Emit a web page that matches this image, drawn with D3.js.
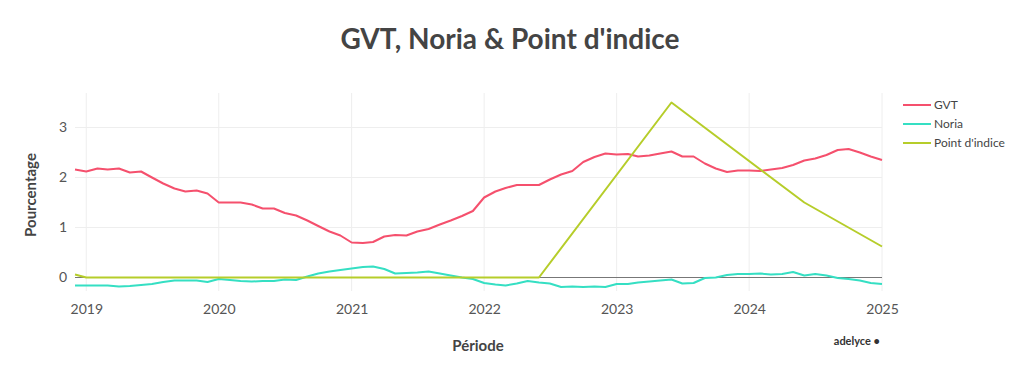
<!DOCTYPE html>
<html>
<head>
<meta charset="utf-8">
<script src="https://cdn.jsdelivr.net/npm/d3@7"></script>
<style>
  body { margin: 0; background: #fff; }
  svg { font-family: "Lato", "Noto Sans", sans-serif; }
</style>
</head>
<body>
<div id="chart"></div>
<script>
// monthly values, Dec 2018 -> Jan 2025
var startMonth = "2018-12";
var gvt = [2.16, 2.12, 2.18, 2.16, 2.18, 2.10, 2.12, 2.00, 1.88, 1.78, 1.72, 1.74, 1.68,
           1.50, 1.50, 1.50, 1.46, 1.38, 1.38, 1.29, 1.24, 1.14, 1.03, 0.92, 0.84,
           0.70, 0.69, 0.71, 0.82, 0.85, 0.84, 0.92, 0.97, 1.06, 1.14, 1.23, 1.33,
           1.60, 1.72, 1.79, 1.85, 1.85, 1.85, 1.96, 2.06, 2.13, 2.31, 2.41, 2.48,
           2.46, 2.47, 2.42, 2.44, 2.48, 2.52, 2.42, 2.42, 2.28, 2.18, 2.11, 2.14,
           2.14, 2.13, 2.16, 2.19, 2.25, 2.34, 2.38, 2.45, 2.55, 2.57, 2.50, 2.42,
           2.35];
var noria = [-0.16, -0.16, -0.16, -0.16, -0.18, -0.17, -0.15, -0.13, -0.09, -0.06, -0.06, -0.06, -0.09,
             -0.03, -0.05, -0.07, -0.08, -0.07, -0.07, -0.04, -0.05, 0.02, 0.08, 0.12, 0.15,
             0.18, 0.21, 0.22, 0.17, 0.08, 0.09, 0.10, 0.12, 0.08, 0.04, 0.00, -0.03,
             -0.11, -0.14, -0.16, -0.12, -0.07, -0.10, -0.12, -0.19, -0.18, -0.19, -0.18, -0.19,
             -0.13, -0.13, -0.10, -0.08, -0.06, -0.04, -0.12, -0.11, -0.01, 0.00, 0.05, 0.07,
             0.07, 0.08, 0.06, 0.07, 0.11, 0.04, 0.07, 0.04, -0.01, -0.03, -0.06, -0.11,
             -0.13];
// point d'indice: sparse dates
var pointDates = ["2018-12", "2019-01", "2022-06", "2023-06", "2024-06", "2025-01"];
var pointValues = [0.06, 0, 0, 3.5, 1.5, 0.62];

var yTicks = [0, 1, 2, 3];
var yearTicks = [2019, 2020, 2021, 2022, 2023, 2024, 2025];

var seriesNames = ["GVT", "Noria", "Point d'indice"];
var colors = ["#f5506d", "#35dfc3", "#b6cd2a"];

var width = 1024, height = 372;
var margin = {top: 93, right: 142, bottom: 81, left: 75};
var innerW = width - margin.left - margin.right,
    innerH = height - margin.top - margin.bottom;

var parseMonth = d3.timeParse("%Y-%m");
var t0 = parseMonth(startMonth);
var monthly = arr => arr.map((v, i) => ({date: d3.timeMonth.offset(t0, i), value: v}));

var series = [
    monthly(gvt),
    monthly(noria),
    pointDates.map((d, i) => ({date: parseMonth(d), value: pointValues[i]}))
];

var x = d3.scaleTime()
    .domain([t0, d3.timeMonth.offset(t0, gvt.length - 1)])
    .range([0, innerW]);
var y = d3.scaleLinear()
    .domain([-0.27, 3.69])
    .range([innerH, 0]);

var svg = d3.select("#chart").append("svg")
    .attr("width", width)
    .attr("height", height);

svg.append("text")
    .attr("x", 510).attr("y", 49)
    .attr("text-anchor", "middle")
    .attr("font-size", 28).attr("font-weight", "bold")
    .attr("fill", "#444")
    .text("GVT, Noria & Point d'indice");

var g = svg.append("g")
    .attr("transform", `translate(${margin.left},${margin.top})`);

// grid
g.selectAll(".vgrid").data(yearTicks).enter().append("line")
    .attr("x1", d => x(new Date(d, 0, 1))).attr("x2", d => x(new Date(d, 0, 1)))
    .attr("y1", 0).attr("y2", innerH)
    .attr("stroke", "#eeeeee").attr("stroke-width", 1);
g.selectAll(".hgrid").data(yTicks.filter(d => d != 0)).enter().append("line")
    .attr("x1", 0).attr("x2", innerW)
    .attr("y1", d => y(d)).attr("y2", d => y(d))
    .attr("stroke", "#eeeeee").attr("stroke-width", 1);

// zero line
g.append("line")
    .attr("x1", 0).attr("x2", innerW)
    .attr("y1", y(0)).attr("y2", y(0))
    .attr("stroke", "#777").attr("stroke-width", 1);

// axes
var xAxis = g.append("g")
    .attr("transform", `translate(0,${innerH})`)
    .call(d3.axisBottom(x).tickValues(yearTicks.map(d => new Date(d, 0, 1)))
        .tickFormat(d3.timeFormat("%Y")).tickSize(0).tickPadding(13));
var yAxis = g.append("g")
    .call(d3.axisLeft(y).tickValues(yTicks).tickFormat(d3.format("d")).tickSize(0).tickPadding(8));
[xAxis, yAxis].forEach(a => {
    a.select(".domain").remove();
    a.selectAll("text").attr("font-size", 14).attr("fill", "#555")
        .attr("font-family", "Lato, sans-serif");
});

// lines
var line = d3.line().x(d => x(d.date)).y(d => y(d.value));
series.forEach((s, i) => {
    g.append("path")
        .datum(s)
        .attr("fill", "none")
        .attr("stroke", colors[i])
        .attr("stroke-width", 2)
        .attr("stroke-linejoin", "round")
        .attr("d", line);
});

// axis titles
svg.append("text")
    .attr("transform", "translate(36,195) rotate(-90)")
    .attr("text-anchor", "middle")
    .attr("font-size", 15).attr("font-weight", "bold").attr("fill", "#444")
    .text("Pourcentage");
svg.append("text")
    .attr("x", 478).attr("y", 351)
    .attr("text-anchor", "middle")
    .attr("font-size", 15).attr("font-weight", "bold").attr("fill", "#444")
    .text("Période");

// legend
var legend = svg.append("g").attr("transform", "translate(903,105)");
seriesNames.forEach((n, i) => {
    var row = legend.append("g").attr("transform", `translate(0,${i * 19})`);
    row.append("line").attr("x1", 0).attr("x2", 28).attr("y1", 0).attr("y2", 0)
        .attr("stroke", colors[i]).attr("stroke-width", 2);
    row.append("text").attr("x", 31).attr("y", 4)
        .attr("font-size", 12).attr("fill", "#444")
        .text(n);
});

// credit
svg.append("text")
    .attr("x", 880).attr("y", 345)
    .attr("text-anchor", "end")
    .attr("font-size", 11).attr("font-weight", "bold").attr("fill", "#333")
    .text("adelyce •");
</script>
</body>
</html>
